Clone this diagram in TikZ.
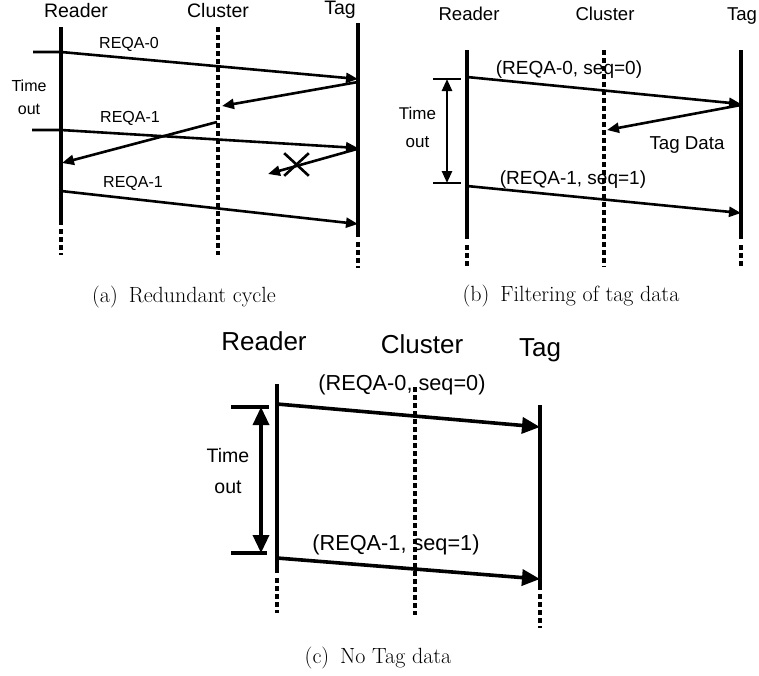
\documentclass[tikz,border=0pt]{standalone}
\usepackage{fontspec}
\setsansfont{Liberation Sans}
\usetikzlibrary{arrows.meta, shapes.misc}
\newcommand{\sfs}[2]{\fontsize{#1}{#2}\selectfont\sffamily}

\begin{document}
\begin{tikzpicture}[
  x=1pt, y=-1pt,
  life/.style={line width=3.4pt},
  lifedash/.style={line width=3.4pt, dash pattern=on 5pt off 3pt},
  msg/.style={line width=2.6pt, -{Triangle[length=12pt, width=10pt]}},
  bigmsg/.style={line width=3.6pt, -{Triangle[length=18pt, width=16pt]}},
  txt/.style={anchor=base, inner sep=0pt},
  capt/.style={anchor=base, inner sep=0pt, font=\fontsize{22}{26}\selectfont\rmfamily}
]
  \useasboundingbox (0,0) rectangle (759,675);

  %% (a) redundant cycle
  \node[txt, font=\sfs{19.5}{22}] (aRd) at (76,17.3) {Reader};
  \node[txt, font=\sfs{19.5}{22}] (aCl) at (218,17.3) {Cluster};
  \node[txt, font=\sfs{19.5}{22}] (aTg) at (340,14) {Tag};

  \draw[life] (61,27) -- (61,225);
  \draw[lifedash] (61,229) -- (61,255);
  \draw[lifedash] (218,27) -- (218,255);
  \draw[life] (358,23) -- (358,237);
  \draw[lifedash] (358,242) -- (358,268);

  \coordinate (a0s) at (33,52);
  \coordinate (a0r) at (61,52);
  \coordinate (a0t) at (358,79);
  \draw[msg] (a0s) -- (a0r) -- (a0t);
  \node[txt, font=\sfs{16}{19}] (aq0) at (129,48.3) {REQA-0};

  \coordinate (a1t) at (358,82);
  \coordinate (a1c) at (222,106);
  \draw[msg] (a1t) -- (a1c);

  \node[align=center, inner sep=0pt, font=\sfs{16}{23.3}] (aTo) at (29,97) {Time\\out};

  \coordinate (a2s) at (32,130);
  \coordinate (a2r) at (61,130);
  \coordinate (a2t) at (358,148);
  \draw[msg] (a2s) -- (a2r) -- (a2t);
  \node[txt, font=\sfs{16}{19}] (aq1) at (130,122.7) {REQA-1};

  \coordinate (a3c) at (217,122);
  \coordinate (a3r) at (62,163);
  \draw[msg] (a3c) -- (a3r);

  \coordinate (a4t) at (357,149);
  \coordinate (a4e) at (268,174);
  \draw[msg] (a4t) -- (a4e);
  \node[draw, cross out, line width=2.6pt, minimum width=22pt, minimum height=20pt,
        inner sep=0pt] (aX) at (296.5,164.5) {};

  \coordinate (a5r) at (61,191);
  \coordinate (a5t) at (358,224);
  \draw[msg] (a5r) -- (a5t);
  \node[txt, font=\sfs{16}{19}] (aq2) at (133,187.7) {REQA-1};

  \node[capt] (capa) at (184,302) {(a)\enspace Redundant cycle};

  %% (b) filtering of tag data
  \node[txt, font=\sfs{18.6}{22}] (bRd) at (469,20) {Reader};
  \node[txt, font=\sfs{18.6}{22}] (bCl) at (605,20) {Cluster};
  \node[txt, font=\sfs{18.6}{22}] (bTg) at (742,20.7) {Tag};

  \draw[life] (467,50) -- (467,239);
  \draw[lifedash] (467,245) -- (467,267);
  \draw[lifedash] (604,50) -- (604,267);
  \draw[life] (741,50) -- (741,239);
  \draw[lifedash] (741,245) -- (741,267);

  \coordinate (bT0) at (433,79);
  \coordinate (bT0e) at (461,79);
  \coordinate (bT1) at (433,183);
  \coordinate (bT1e) at (461,183);
  \draw[line width=2.8pt] (bT0) -- (bT0e);
  \draw[line width=2.8pt] (bT1) -- (bT1e);
  \coordinate (bA0) at (447,79);
  \coordinate (bA1) at (447,183);
  \draw[line width=2.6pt, {Triangle[length=12pt, width=10pt]}-{Triangle[length=12pt, width=10pt]}]
    (bA0) -- (bA1);
  \node[align=center, inner sep=0pt, font=\sfs{17}{27.4}] (bTo) at (417.5,127.5) {Time\\out};

  \coordinate (b0r) at (467,77);
  \coordinate (b0t) at (741,104);
  \draw[msg] (b0r) -- (b0t);
  \node[txt, font=\sfs{19}{22}] (bq0) at (569,74) {(REQA-0, seq=0)};

  \coordinate (b1t) at (741,105);
  \coordinate (b1c) at (607,130);
  \draw[msg] (b1t) -- (b1c);
  \node[txt, font=\sfs{18.7}{22}] (bTd) at (687,149) {Tag Data};

  \coordinate (b2r) at (467,186);
  \coordinate (b2t) at (741,213);
  \draw[msg] (b2r) -- (b2t);
  \node[txt, font=\sfs{19}{22}] (bq1) at (573,184) {(REQA-1, seq=1)};

  \node[capt] (capb) at (571,301) {(b)\enspace Filtering of tag data};

  %% (c) no tag data
  \node[txt, font=\sfs{26}{30}] (cRd) at (264,350) {Reader};
  \node[txt, font=\sfs{26}{30}] (cCl) at (422,353) {Cluster};
  \node[txt, font=\sfs{26}{30}] (cTg) at (540,356) {Tag};

  \draw[life, line width=4pt] (277,384) -- (277,573);
  \draw[lifedash, line width=4pt] (277,578) -- (277,613);
  \draw[lifedash, line width=4pt] (415,387) -- (415,615);
  \draw[life, line width=4pt] (540,405) -- (540,590);
  \draw[lifedash, line width=4pt] (540,594) -- (540,628);

  \coordinate (cT0) at (231,407);
  \coordinate (cT0e) at (269,407);
  \coordinate (cT1) at (231,553);
  \coordinate (cT1e) at (267,553);
  \draw[line width=3.4pt] (cT0) -- (cT0e);
  \draw[line width=3.4pt] (cT1) -- (cT1e);
  \coordinate (cA0) at (261,407);
  \coordinate (cA1) at (261,553);
  \draw[line width=3.4pt, {Triangle[length=18pt, width=16pt]}-{Triangle[length=18pt, width=16pt]}]
    (cA0) -- (cA1);
  \node[align=center, inner sep=0pt, font=\sfs{19.5}{31}] (cTo) at (228,471.5) {Time\\out};

  \coordinate (c0r) at (277,404);
  \coordinate (c0t) at (540,427);
  \draw[bigmsg] (c0r) -- (c0t);
  \node[txt, font=\sfs{21.7}{25}] (cq0) at (402,390) {(REQA-0, seq=0)};

  \coordinate (c1r) at (277,558);
  \coordinate (c1t) at (540,579);
  \draw[bigmsg] (c1r) -- (c1t);
  \node[txt, font=\sfs{21.7}{25}] (cq1) at (396,550) {(REQA-1, seq=1)};

  \node[capt] (capc) at (378,663) {(c)\enspace No Tag data};
\end{tikzpicture}
\end{document}
